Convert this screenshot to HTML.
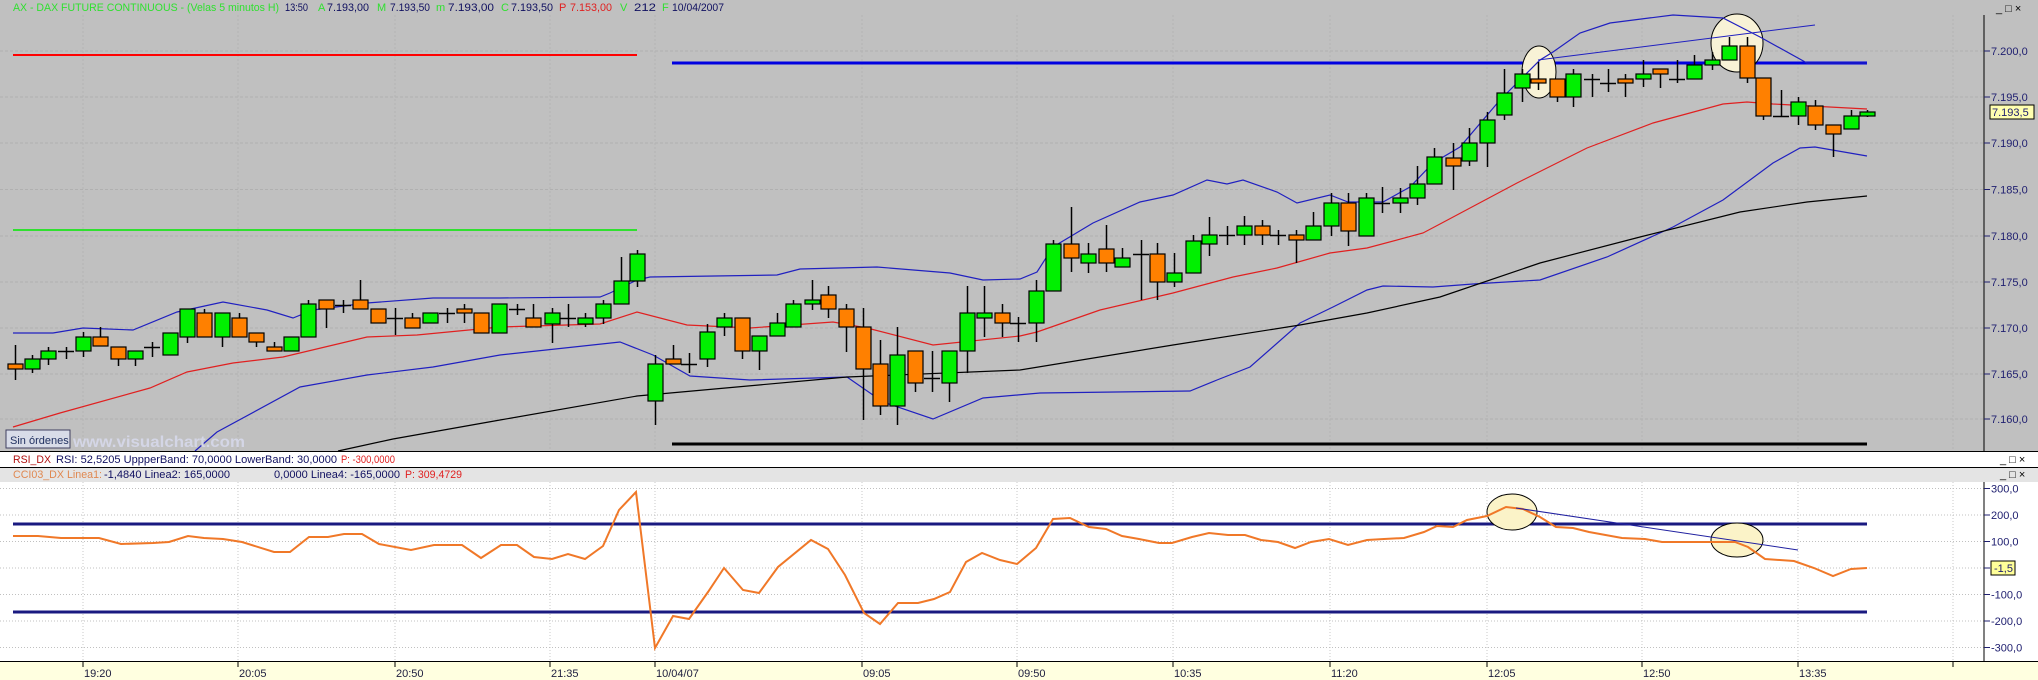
<!DOCTYPE html>
<html><head><meta charset="utf-8"><style>
html,body{margin:0;padding:0;background:#c0c0c0;}
svg{display:block;font-family:"Liberation Sans",Arial,sans-serif;}
</style></head><body>
<svg id="s" width="2038" height="680" xmlns="http://www.w3.org/2000/svg">
<rect x="0" y="0" width="2038" height="451" fill="#c0c0c0"/>
<g id="grid"></g>
<g font-size="11">
<text x="13" y="11" fill="#30e030" textLength="266" lengthAdjust="spacingAndGlyphs">AX - DAX FUTURE CONTINUOUS - (Velas 5 minutos H)</text>
<text x="285" y="11" fill="#101060" textLength="23" lengthAdjust="spacingAndGlyphs">13:50</text>
<text x="318" y="11" fill="#30e030">A</text>
<text x="327" y="11" fill="#101060" textLength="42" lengthAdjust="spacingAndGlyphs">7.193,00</text>
<text x="377" y="11" fill="#30e030">M</text>
<text x="390" y="11" fill="#101060" textLength="40" lengthAdjust="spacingAndGlyphs">7.193,50</text>
<text x="436" y="11" fill="#30e030">m</text>
<text x="448" y="11" fill="#101060" textLength="46" lengthAdjust="spacingAndGlyphs">7.193,00</text>
<text x="501" y="11" fill="#30e030">C</text>
<text x="511" y="11" fill="#101060" textLength="42" lengthAdjust="spacingAndGlyphs">7.193,50</text>
<text x="559" y="11" fill="#e02020">P</text>
<text x="570" y="11" fill="#e02020" textLength="42" lengthAdjust="spacingAndGlyphs">7.153,00</text>
<text x="620" y="11" fill="#30e030">V</text>
<text x="634" y="11" fill="#101060" textLength="22" lengthAdjust="spacingAndGlyphs">212</text>
<text x="662" y="11" fill="#30e030">F</text>
<text x="672" y="11" fill="#101060" textLength="52" lengthAdjust="spacingAndGlyphs">10/04/2007</text>
</g>
<line x1="13" y1="55" x2="637" y2="55" stroke="#ff0000" stroke-width="2"/>
<line x1="13" y1="230" x2="637" y2="230" stroke="#30e030" stroke-width="2"/>
<line x1="672" y1="63" x2="1867" y2="63" stroke="#0000e0" stroke-width="3"/>
<line x1="672" y1="444" x2="1867" y2="444" stroke="#000" stroke-width="3"/>
<g id="ell"></g>
<g id="lines"></g>
<g id="candles"></g>
<line x1="1538" y1="60" x2="1815" y2="25" stroke="#2020c0" stroke-width="1"/>
<rect x="6" y="430" width="64" height="18" fill="#d8dce8" stroke="#404060"/>
<text x="10" y="444" font-size="11" fill="#203060">Sin órdenes</text>
<text x="73" y="447" font-size="16" font-weight="bold" fill="#d4d6e6" textLength="172" lengthAdjust="spacingAndGlyphs">www.visualchart.com</text>
<line x1="1984" y1="15" x2="1984" y2="451" stroke="#000" stroke-width="1"/>
<g id="paxis" font-size="11" fill="#202070"></g>
<text x="1996" y="12" font-size="11" fill="#000">_ □ ×</text>
<rect x="0" y="451" width="2038" height="16" fill="#fff"/>
<line x1="0" y1="451.5" x2="2038" y2="451.5" stroke="#000"/>
<line x1="0" y1="467.5" x2="2038" y2="467.5" stroke="#000"/>
<text x="13" y="463" font-size="11" fill="#b01010" textLength="38" lengthAdjust="spacingAndGlyphs">RSI_DX</text>
<text x="56" y="463" font-size="11" fill="#101060" textLength="281" lengthAdjust="spacingAndGlyphs">RSI: 52,5205  UppperBand: 70,0000  LowerBand: 30,0000</text>
<text x="341" y="463" font-size="11" fill="#e02020" textLength="54" lengthAdjust="spacingAndGlyphs">P: -300,0000</text>
<text x="2000" y="463" font-size="11" fill="#000">_ □ ×</text>
<rect x="0" y="468" width="2038" height="14" fill="#e4e4e4"/>
<text x="13" y="478" font-size="11" fill="#e08850" textLength="89" lengthAdjust="spacingAndGlyphs">CCI03_DX  Linea1:</text>
<text x="104" y="478" font-size="11" fill="#101060" textLength="126" lengthAdjust="spacingAndGlyphs">-1,4840  Linea2: 165,0000</text>
<text x="274" y="478" font-size="11" fill="#101060" textLength="126" lengthAdjust="spacingAndGlyphs">0,0000  Linea4: -165,0000</text>
<text x="405" y="478" font-size="11" fill="#e02020" textLength="57" lengthAdjust="spacingAndGlyphs">P: 309,4729</text>
<text x="2000" y="478" font-size="11" fill="#000">_ □ ×</text>
<rect x="0" y="482" width="2038" height="179" fill="#fff"/>
<g id="cgrid"></g>
<line x1="13" y1="524" x2="1867" y2="524" stroke="#1a1a80" stroke-width="3"/>
<line x1="13" y1="612" x2="1867" y2="612" stroke="#1a1a80" stroke-width="3"/>
<ellipse cx="1512" cy="512" rx="25" ry="18" fill="#fbf3c8" stroke="#000"/>
<ellipse cx="1737" cy="540" rx="26" ry="17" fill="#fbf3c8" stroke="#000"/>
<polyline id="cci" fill="none" stroke="#f07828" stroke-width="2"/>
<line x1="1516" y1="508" x2="1798" y2="550" stroke="#2020a0" stroke-width="1"/>
<line x1="1984" y1="482" x2="1984" y2="661" stroke="#000"/>
<g id="caxis" font-size="11" fill="#202070"></g>
<rect x="0" y="661" width="2038" height="19" fill="#ffffe0"/>
<line x1="0" y1="661.5" x2="2038" y2="661.5" stroke="#000"/>
<g id="taxis" font-size="11" fill="#202040"></g>
</svg>
<script>
const NS="http://www.w3.org/2000/svg";
function el(p,t,a,txt){const e=document.createElementNS(NS,t);for(const k in a)e.setAttribute(k,a[k]);if(txt!==undefined)e.textContent=txt;document.getElementById(p).appendChild(e);return e;}
const ticks=[83,238,395,550,655,862,1017,1173,1330,1487,1642,1798,1953];
const tl=["19:20","20:05","20:50","21:35","10/04/07","09:05","09:50","10:35","11:20","12:05","12:50","13:35",""];
const py=[51,97,143,189.5,236,282,328,374,419];
const pl=["7.200,0","7.195,0","7.190,0","7.185,0","7.180,0","7.175,0","7.170,0","7.165,0","7.160,0"];
py.forEach((y,i)=>{el("grid","line",{x1:0,y1:y,x2:1984,y2:y,stroke:"#b0b0b0","stroke-dasharray":"3,2"});
 el("paxis","line",{x1:1984,y1:y,x2:1990,y2:y,stroke:"#202070"});el("paxis","text",{x:1991,y:y+4},pl[i]);});
ticks.forEach(x=>{el("grid","line",{x1:x,y1:15,x2:x,y2:451,stroke:"#b4b4b4","stroke-dasharray":"2,2"});
 el("cgrid","line",{x1:x,y1:482,x2:x,y2:661,stroke:"#c8c8c8","stroke-dasharray":"1,2"});});
ticks.forEach((x,i)=>{el("taxis","line",{x1:x,y1:661,x2:x,y2:667,stroke:"#000"});if(tl[i])el("taxis","text",{x:x+1,y:677},tl[i]);});
const cv=[300,200,100,0,-100,-200,-300];
cv.forEach(v=>{const y=568-v*0.265;el("cgrid","line",{x1:0,y1:y,x2:1984,y2:y,stroke:"#c0c0c0","stroke-dasharray":"1,2"});
 el("caxis","line",{x1:1984,y1:y,x2:1990,y2:y,stroke:"#202070"});
 if(v!==0)el("caxis","text",{x:1991,y:y+4},v+",0");});
el("caxis","rect",{x:1991,y:561,width:24,height:14,fill:"#ffff99",stroke:"#000"});
el("caxis","text",{x:1994,y:572},"-1,5");
el("paxis","rect",{x:1990,y:105,width:44,height:14,fill:"#ffffb0",stroke:"#000"});
el("paxis","text",{x:1992,y:116},"7.193,5");
el("ell","ellipse",{cx:1539,cy:72,rx:17,ry:26,fill:"#f8f2d6",stroke:"#000"});
el("ell","ellipse",{cx:1737,cy:43,rx:26,ry:29,fill:"#f8f2d6",stroke:"#000"});
function pl2(pts,c,w){el("lines","polyline",{points:pts.map(p=>p.join(",")).join(" "),fill:"none",stroke:c,"stroke-width":w||1.2});}
pl2([[13,333],[53,333],[83,328],[133,330],[177,312],[223,302],[267,310],[293,318],[313,310],[367,303],[433,298],[500,298],[600,297],[610,293],[637,280],[650,277],[777,275],[800,269],[877,267],[950,273],[983,280],[1020,279],[1037,272],[1053,247],[1093,223],[1140,202],[1173,195],[1207,180],[1227,184],[1243,180],[1277,192],[1297,203],[1330,195],[1348,202],[1383,202],[1410,187],[1433,163],[1460,147],[1500,100],[1540,60],[1553,52],[1580,33],[1610,23],[1673,15],[1723,18],[1760,37],[1807,63],[1867,63]],"#2020c0");
pl2([[13,427],[60,413],[150,388],[187,372],[233,363],[283,357],[367,337],[417,335],[500,327],[600,324],[637,312],[687,325],[750,328],[833,322],[867,328],[933,345],[1020,336],[1037,332],[1100,310],[1173,293],[1233,277],[1277,268],[1330,253],[1367,248],[1423,233],[1440,224],[1517,183],[1587,148],[1653,123],[1723,104],[1747,102],[1773,104],[1867,109]],"#e02020");
pl2([[195,451],[217,432],[300,387],[367,375],[433,367],[500,355],[620,342],[653,355],[690,376],[750,380],[847,377],[883,402],[933,419],[983,398],[1040,393],[1190,391],[1217,380],[1250,367],[1300,323],[1333,307],[1367,290],[1383,286],[1433,287],[1473,284],[1540,280],[1607,257],[1673,227],[1723,200],[1773,163],[1800,148],[1815,147],[1867,156]],"#2020c0");
pl2([[338,451],[393,439],[500,420],[637,396],[847,377],[1020,370],[1173,345],[1300,325],[1367,313],[1440,297],[1540,263],[1640,237],[1740,212],[1807,202],[1867,196]],"#000");
const B=[[15,364,369,345,380,'o'],[32,359,369,355,373,'g'],[48,351,359,347,365,'g'],[66,351,351,347,359,'c'],[83,337,351,332,357,'g'],[100,337,346,327,346,'o'],[118,347,359,347,366,'o'],[135,351,359,351,366,'g'],[152,347,347,342,357,'c'],[170,333,355,333,355,'g'],[187,309,337,309,343,'g'],[204,313,337,309,337,'o'],[222,313,337,313,347,'g'],[239,318,337,313,337,'o'],[256,333,342,333,347,'o'],[274,347,351,342,351,'o'],[291,337,351,337,351,'g'],[308,304,337,300,337,'g'],[326,300,309,300,328,'o'],[343,305,305,300,313,'c'],[360,300,309,280,309,'o'],[378,309,323,309,323,'o'],[395,318,318,308,335,'c'],[412,318,328,313,328,'o'],[430,313,323,313,323,'g'],[447,313,313,308,323,'c'],[464,309,313,304,323,'o'],[481,313,333,313,333,'o'],[499,304,333,304,333,'g'],[517,309,309,304,315,'c'],[533,318,327,304,327,'o'],[552,313,324,308,343,'g'],[568,318,318,304,327,'c'],[585,318,324,313,327,'g'],[603,304,318,300,324,'g'],[621,281,304,257,304,'g'],[637,254,281,250,287,'g'],[655,364,401,355,425,'g'],[673,359,364,345,364,'o'],[689,364,364,353,373,'c'],[707,332,359,324,367,'g'],[724,318,327,313,336,'g'],[742,318,351,318,359,'o'],[759,336,351,336,370,'g'],[777,323,336,313,336,'g'],[793,304,327,300,327,'g'],[812,300,304,280,310,'g'],[828,295,309,286,318,'o'],[846,309,327,304,352,'o'],[863,327,369,308,420,'o'],[880,364,406,340,415,'o'],[897,355,406,327,425,'g'],[915,351,383,351,392,'o'],[932,378,378,351,392,'c'],[949,351,383,351,402,'g'],[967,313,351,286,373,'g'],[984,313,318,286,337,'g'],[1002,313,323,304,337,'o'],[1018,323,323,317,342,'c'],[1036,291,323,280,342,'g'],[1053,244,291,240,291,'g'],[1071,244,258,207,272,'o'],[1088,254,263,243,273,'g'],[1106,249,263,225,272,'o'],[1122,258,267,248,267,'g'],[1141,254,254,240,300,'c'],[1157,254,282,243,300,'o'],[1174,273,282,253,287,'g'],[1193,241,273,235,273,'g'],[1209,235,244,217,256,'g'],[1227,235,235,226,245,'c'],[1244,226,235,216,245,'g'],[1262,226,235,220,245,'o'],[1278,235,235,230,245,'c'],[1296,235,240,230,263,'o'],[1313,226,240,212,240,'g'],[1331,203,226,193,236,'g'],[1348,203,231,193,246,'o'],[1366,198,236,193,236,'g'],[1382,203,203,187,213,'c'],[1400,198,203,188,213,'g'],[1417,184,198,166,205,'g'],[1434,157,184,148,184,'g'],[1453,158,166,143,190,'o'],[1469,143,161,128,166,'g'],[1487,120,143,112,167,'g'],[1504,93,115,69,120,'g'],[1522,74,88,69,102,'g'],[1538,79,83,62,90,'o'],[1557,79,97,79,102,'o'],[1573,74,97,69,107,'g'],[1592,79,79,74,97,'c'],[1608,83,83,69,92,'c'],[1625,79,83,74,97,'o'],[1643,74,79,60,87,'g'],[1660,69,74,69,88,'o'],[1677,79,79,60,83,'c'],[1694,65,79,55,79,'g'],[1712,60,65,52,70,'g'],[1729,46,60,37,60,'g'],[1747,46,78,37,83,'o'],[1763,78,116,78,120,'o'],[1781,116,116,90,116,'c'],[1798,102,116,97,125,'g'],[1815,106,125,100,130,'o'],[1833,125,134,125,157,'o'],[1851,116,129,110,129,'g'],[1867,112,116,110,117,'g']];
B.forEach(b=>{const [x,t,bt,h,l,c]=b;
 el("candles","line",{x1:x+.5,y1:h,x2:x+.5,y2:l,stroke:"#000","stroke-width":1.5});
 if(c==='c'){el("candles","line",{x1:x-8,y1:t+.5,x2:x+8,y2:t+.5,stroke:"#000","stroke-width":1.5});}
 else el("candles","rect",{x:x-7,y:t,width:15,height:Math.max(bt-t,2),fill:c==='g'?'#00f000':'#ff8000',stroke:"#000","stroke-width":1.2});});
const C=[[13,536],[38,536],[61,538],[99,538],[121,544],[153,543],[169,542],[188,536],[204,538],[223,539],[242,542],[274,552],[290,552],[309,537],[328,537],[344,534],[362,534],[379,544],[411,550],[434,545],[462,545],[481,558],[501,545],[517,545],[534,557],[552,559],[568,554],[585,559],[603,546],[619,510],[636,492],[655,648],[673,616],[689,619],[708,592],[724,568],[743,590],[759,593],[778,567],[811,540],[828,549],[845,575],[864,613],[880,624],[898,603],[918,603],[934,599],[950,592],[966,562],[982,553],[1000,560],[1017,564],[1036,548],[1053,519],[1070,518],[1089,527],[1106,529],[1122,536],[1139,539],[1159,543],[1172,543],[1192,537],[1209,533],[1228,535],[1245,535],[1261,540],[1278,542],[1295,548],[1311,542],[1329,539],[1348,545],[1367,540],[1384,539],[1404,538],[1424,532],[1437,526],[1453,527],[1467,520],[1487,516],[1506,507],[1523,509],[1540,517],[1556,527],[1573,528],[1589,532],[1622,538],[1645,539],[1662,542],[1735,542],[1748,547],[1765,559],[1794,561],[1814,568],[1833,576],[1851,569],[1867,568]];
document.getElementById("cci").setAttribute("points",C.map(p=>p.join(",")).join(" "));
</script>
</body></html>
